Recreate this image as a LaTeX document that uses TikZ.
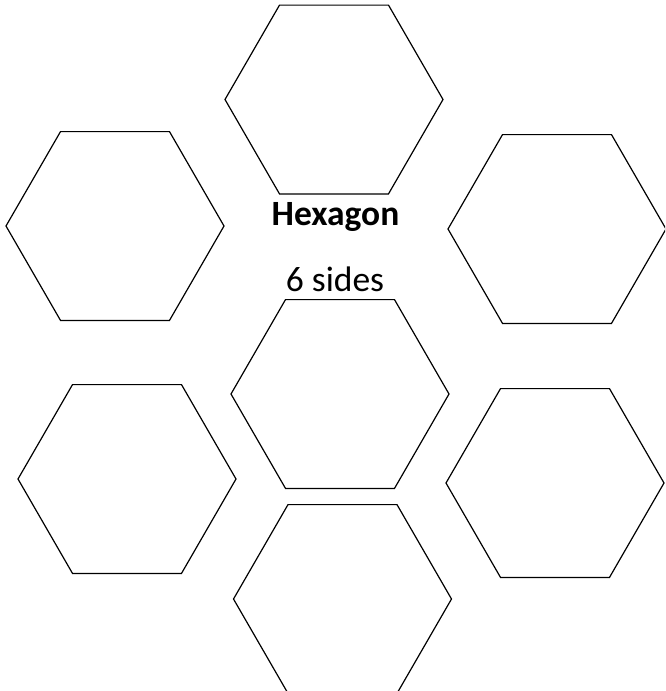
\documentclass[tikz,border=0pt]{standalone}
\usepackage{fontspec}
\setmainfont{Carlito}
\usetikzlibrary{shapes.geometric}
\begin{document}
\begin{tikzpicture}[x=1pt,y=-1pt,
  hexshape/.style={regular polygon, regular polygon sides=6, shape border rotate=0,
    draw=black, line width=1.2pt, inner sep=0pt, outer sep=0pt, minimum size=218pt},
  labeltext/.style={inner sep=0pt, anchor=base, font=\fontsize{35.5}{42}\selectfont}]
\useasboundingbox (0,0) rectangle (665,691);
\clip (0,0) rectangle (665,691);
\node[hexshape] (htop) at (334,99.5) {};
\node[hexshape] (htl) at (115,226) {};
\node[hexshape] (htr) at (557,229) {};
\node[hexshape] (hmid) at (340,394) {};
\node[hexshape] (hbl) at (127,479) {};
\node[hexshape] (hbr) at (555,483) {};
\node[hexshape] (hbot) at (342.5,599) {};
\node[labeltext, font=\fontsize{35.5}{42}\selectfont\bfseries] (title) at (335.5,225) {Hexagon};
\node[labeltext] (sub) at (335,291) {6 sides};
\end{tikzpicture}
\end{document}
